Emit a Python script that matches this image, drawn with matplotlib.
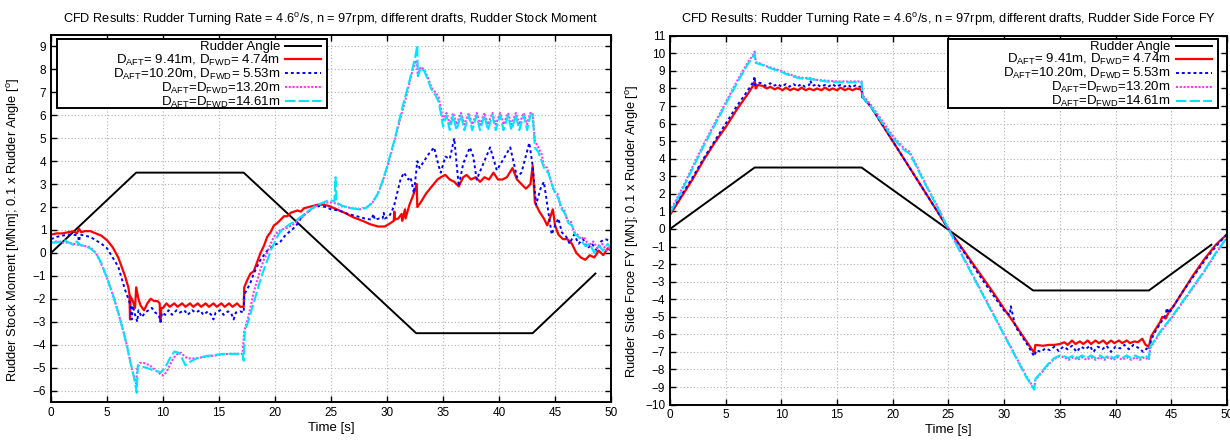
import matplotlib
matplotlib.use('Agg')
import matplotlib.pyplot as plt
from matplotlib.patches import Rectangle
from matplotlib.ticker import MultipleLocator

plt.rcParams['font.family'] = ['Liberation Sans', 'DejaVu Sans']
plt.rcParams['mathtext.fontset'] = 'custom'
plt.rcParams['mathtext.rm'] = 'Liberation Sans'
plt.rcParams['mathtext.it'] = 'Liberation Sans:italic'
plt.rcParams['mathtext.bf'] = 'Liberation Sans:bold'

# ---------------- data: (time [s], value) ----------------
# rudder angle (0.1 x deg), same for both plots
rudder = [(0, 0), (7.6, 3.5), (17.2, 3.5), (32.6, -3.5), (43.0, -3.5), (48.6, -0.9)]

labels = ['Rudder Angle',
          r'D$_{\mathrm{AFT}}$= 9.41m, D$_{\mathrm{FWD}}$= 4.74m',
          r'D$_{\mathrm{AFT}}$=10.20m, D$_{\mathrm{FWD}}$= 5.53m',
          r'D$_{\mathrm{AFT}}$=D$_{\mathrm{FWD}}$=13.20m',
          r'D$_{\mathrm{AFT}}$=D$_{\mathrm{FWD}}$=14.61m']

# rudder stock moment [MNm]
mz_941 = [(0, 0.8), (0.5, 0.85), (1, 0.85), (1.5, 0.9), (2, 0.95), (2.3, 0.85), (2.5, 1.05), (2.7, 0.9),
          (3, 0.95), (3.5, 0.95), (4, 0.85), (4.5, 0.75), (5, 0.55), (5.5, 0.25), (6, -0.2), (6.3, -0.6),
          (6.6, -1.0), (6.9, -1.5), (7.0, -1.8), (7.05, -2.9), (7.1, -1.9), (7.3, -2.1), (7.5, -2.4),
          (7.6, -1.5), (7.8, -2.0), (8.0, -2.3), (8.3, -2.5), (8.6, -2.2), (8.9, -2.0), (9.2, -2.1),
          (9.5, -2.1), (9.7, -2.2), (9.75, -3.0), (9.85, -2.4), (10.0, -2.4), (10.3, -2.2), (10.6, -2.35),
          (11.0, -2.2), (11.3, -2.35), (11.7, -2.2), (12.0, -2.35), (12.4, -2.2), (12.7, -2.35),
          (13.1, -2.2), (13.4, -2.35), (13.8, -2.2), (14.1, -2.35), (14.5, -2.2), (14.8, -2.35),
          (15.2, -2.2), (15.5, -2.35), (15.9, -2.2), (16.2, -2.35), (16.6, -2.2), (16.9, -2.35),
          (17.2, -2.35), (17.25, -1.5), (17.5, -1.2), (17.8, -0.9), (18.1, -0.8), (18.4, -0.4), (18.7, 0.0),
          (19.0, 0.3), (19.3, 0.7), (19.6, 0.9), (19.9, 1.2), (20.2, 1.3), (20.5, 1.45), (20.8, 1.6),
          (21.1, 1.6), (21.4, 1.75), (21.7, 1.8), (22.0, 1.85), (22.3, 1.8), (22.6, 1.95), (23.0, 2.0),
          (23.4, 2.05), (23.8, 2.1), (24.3, 2.1), (24.8, 2.05), (25.5, 1.9), (26.2, 1.75), (27.0, 1.55),
          (27.8, 1.4), (28.5, 1.25), (29.2, 1.15), (29.8, 1.15), (30.3, 1.3), (30.6, 1.4), (30.65, 1.8),
          (30.7, 1.45), (31.0, 1.5), (31.3, 1.7), (31.35, 1.4), (31.6, 1.9), (31.65, 1.5), (32.0, 2.1),
          (32.4, 2.6), (32.65, 3.0), (32.7, 2.0), (33.0, 2.2), (33.5, 2.6), (34.0, 2.9), (34.5, 3.2),
          (34.8, 3.3), (35.2, 3.4), (35.6, 3.2), (36.0, 3.1), (36.4, 2.9), (36.8, 3.3), (37.1, 3.4),
          (37.5, 3.2), (37.9, 3.3), (38.3, 3.1), (38.7, 3.3), (39.1, 3.2), (39.5, 3.5), (39.9, 3.2),
          (40.3, 3.2), (40.7, 3.3), (41.2, 3.7), (41.6, 3.2), (42.0, 3.0), (42.4, 2.8), (42.8, 3.0),
          (43.0, 3.8), (43.2, 2.2), (43.6, 1.8), (44.0, 1.5), (44.3, 1.2), (44.6, 1.6), (44.8, 1.9),
          (45.0, 1.2), (45.3, 0.8), (45.7, 0.6), (46.1, 0.6), (46.5, 0.4), (46.9, 0.0), (47.3, -0.2),
          (47.7, -0.3), (48.1, -0.1), (48.5, -0.2), (48.9, 0.1), (49.3, -0.1), (49.7, 0.2), (50.0, 0.1)]

mz_1020 = [(0, 0.6), (0.5, 0.7), (1, 0.75), (1.5, 0.8), (2, 0.8), (2.4, 0.75), (2.5, 0.5), (2.6, 0.8),
           (3, 0.75), (3.5, 0.7), (4, 0.55), (4.5, 0.4), (5, 0.2), (5.5, -0.2), (6, -0.6), (6.3, -1.1),
           (6.6, -1.6), (6.9, -2.0), (7.1, -2.3), (7.2, -2.9), (7.3, -2.3), (7.5, -2.7), (7.7, -3.0),
           (7.8, -2.5), (8.1, -2.8), (8.4, -2.6), (8.7, -2.5), (9.0, -2.4), (9.3, -2.6), (9.6, -2.7),
           (9.8, -3.0), (9.9, -2.6), (10.2, -2.7), (10.5, -2.5), (10.8, -2.7), (11.2, -2.5), (11.5, -2.6),
           (11.9, -2.5), (12.2, -2.7), (12.6, -2.5), (12.9, -2.6), (13.3, -2.5), (13.6, -2.7),
           (14.0, -2.55), (14.3, -2.7), (14.5, -2.9), (14.7, -2.6), (15.1, -2.5), (15.4, -2.7),
           (15.8, -2.55), (16.1, -2.65), (16.3, -2.9), (16.5, -2.6), (16.9, -2.55), (17.2, -2.6),
           (17.25, -1.8), (17.5, -1.6), (17.8, -1.3), (18.1, -0.9), (18.4, -0.6), (18.7, -0.3), (19.0, -0.1),
           (19.3, 0.1), (19.6, 0.2), (19.9, 0.35), (20.2, 0.4), (20.5, 0.5), (20.8, 0.7), (21.1, 0.85),
           (21.5, 1.0), (21.9, 1.2), (22.3, 1.5), (22.7, 1.7), (23.1, 1.85), (23.5, 2.0), (24.0, 2.05),
           (24.5, 2.0), (25.0, 1.9), (25.7, 1.85), (26.5, 1.7), (27.3, 1.6), (28.0, 1.5), (28.6, 1.45),
           (28.8, 1.7), (28.9, 1.45), (29.3, 1.5), (29.6, 1.5), (29.7, 1.75), (29.8, 1.5), (30.2, 1.6),
           (30.6, 2.0), (30.9, 2.6), (31.2, 3.2), (31.5, 3.5), (31.9, 3.2), (32.1, 3.3), (32.4, 2.6),
           (32.7, 4.0), (32.9, 3.7), (33.3, 4.0), (33.7, 4.3), (34.2, 4.6), (34.6, 3.8), (34.8, 3.5),
           (35.2, 4.2), (35.6, 4.1), (36.0, 5.0), (36.4, 2.9), (36.8, 3.9), (37.4, 4.6), (37.7, 4.2),
           (38.0, 3.2), (38.6, 3.9), (39.2, 4.6), (39.8, 3.6), (40.4, 4.1), (41.0, 4.6), (41.6, 3.3),
           (42.0, 3.5), (42.7, 4.8), (43.0, 3.8), (43.3, 2.1), (43.7, 2.8), (44.0, 3.1), (44.4, 1.8),
           (44.7, 0.8), (45.0, 1.2), (45.3, 1.5), (45.6, 0.9), (46.0, 0.7), (46.3, 0.4), (46.7, 0.8),
           (47.1, 0.4), (47.5, 0.6), (47.9, 0.2), (48.3, 0.4), (48.7, 0.1), (49.1, 0.5), (49.5, 0.6),
           (50.0, 0.5)]

mz_1320 = [(0, 0.45), (0.5, 0.5), (1, 0.45), (1.5, 0.45), (2, 0.4), (2.5, 0.35), (3, 0.3), (3.5, 0.25),
           (4, 0.0), (4.5, -0.5), (5, -1.1), (5.5, -1.8), (6, -2.6), (6.5, -3.5), (6.8, -4.1), (7.1, -4.8),
           (7.4, -5.4), (7.6, -5.7), (7.7, -5.0), (7.9, -4.8), (8.3, -4.8), (8.8, -4.9), (9.3, -5.1),
           (9.8, -5.3), (10.0, -5.35), (10.3, -5.2), (10.6, -4.9), (10.9, -4.6), (11.3, -4.4), (11.6, -4.35),
           (11.9, -4.5), (12.2, -4.6), (12.8, -4.6), (13.5, -4.55), (14.2, -4.5), (15.0, -4.45), (15.8, -4.4),
           (16.5, -4.4), (17.1, -4.4), (17.25, -3.4), (17.5, -3.0), (17.8, -2.4), (18.1, -1.7), (18.4, -1.2),
           (18.7, -0.7), (19.0, -0.3), (19.3, 0.0), (19.6, 0.4), (19.9, 0.7), (20.2, 0.9), (20.5, 1.0),
           (20.8, 1.05), (21.1, 1.1), (21.5, 1.2), (21.9, 1.35), (22.3, 1.5), (22.7, 1.7), (23.1, 1.85),
           (23.5, 2.0), (24.0, 2.1), (24.5, 2.2), (25.0, 2.2), (25.5, 2.15), (26.0, 2.05), (26.8, 1.95),
           (27.6, 1.9), (28.2, 2.0), (28.7, 2.2), (29.2, 2.6), (29.6, 3.1), (30.0, 3.7), (30.4, 4.4),
           (30.8, 5.1), (31.2, 5.9), (31.6, 6.6), (32.0, 7.4), (32.3, 8.0), (32.6, 8.4), (32.75, 7.8),
           (33.0, 8.1), (33.3, 8.0), (33.6, 7.7), (33.9, 7.3), (34.1, 7.1), (34.3, 7.0), (34.6, 6.8),
           (34.8, 6.3), (35.0, 5.8), (35.3, 6.1), (35.6, 5.6), (35.9, 6.1), (36.2, 5.6), (36.6, 6.1),
           (36.9, 5.6), (37.3, 6.1), (37.6, 5.6), (38.0, 6.1), (38.3, 5.6), (38.7, 6.1), (39.0, 5.6),
           (39.4, 6.1), (39.7, 5.6), (40.1, 6.1), (40.4, 5.6), (40.8, 6.1), (41.1, 5.6), (41.5, 6.1),
           (41.8, 5.6), (42.2, 6.1), (42.5, 5.6), (42.8, 6.1), (43.0, 6.1), (43.2, 4.9), (43.5, 4.6),
           (43.8, 4.3), (44.0, 3.8), (44.3, 3.7), (44.6, 3.2), (44.9, 2.7), (45.2, 2.6), (45.5, 2.0),
           (45.8, 1.9), (46.1, 1.4), (46.4, 1.4), (46.7, 0.9), (47.0, 0.8), (47.3, 0.6), (47.6, 0.7),
           (48.0, 0.3), (48.4, 0.5), (48.8, 0.2), (49.2, 0.4), (49.6, 0.1), (50.0, 0.3)]

mz_1461 = [(0, 0.45), (0.5, 0.45), (1.2, 0.55), (1.6, 0.45), (2, 0.35), (2.3, 0.5), (2.6, 0.35), (3, 0.3),
           (3.5, 0.2), (4, 0.0), (4.5, -0.45), (5, -1.1), (5.5, -1.8), (6, -2.6), (6.5, -3.5), (6.8, -4.1),
           (7.1, -4.8), (7.4, -5.4), (7.65, -6.1), (7.75, -4.9), (8.0, -4.95), (8.5, -5.0), (9.0, -5.1),
           (9.8, -5.2), (10.2, -5.0), (10.6, -4.6), (11.0, -4.3), (11.4, -4.35), (11.7, -4.6), (12.0, -4.9),
           (12.4, -4.75), (13.0, -4.6), (13.8, -4.5), (14.6, -4.45), (15.4, -4.4), (16.2, -4.4),
           (17.1, -4.4), (17.2, -4.7), (17.3, -3.4), (17.6, -3.0), (17.9, -2.5), (18.2, -2.0), (18.5, -1.5),
           (18.8, -1.0), (19.1, -0.6), (19.4, -0.2), (19.7, 0.2), (20.0, 0.5), (20.3, 0.8), (20.6, 1.0),
           (20.9, 1.1), (21.3, 1.25), (21.7, 1.35), (22.1, 1.5), (22.5, 1.65), (22.9, 1.8), (23.3, 1.95),
           (23.8, 2.1), (24.3, 2.2), (24.8, 2.3), (25.3, 2.25), (25.4, 3.3), (25.5, 2.2), (26.0, 2.05),
           (26.8, 1.95), (27.5, 1.9), (28.1, 1.95), (28.6, 2.15), (29.1, 2.5), (29.5, 3.0), (29.9, 3.6),
           (30.3, 4.3), (30.7, 5.0), (31.1, 5.8), (31.5, 6.6), (31.9, 7.3), (32.2, 7.9), (32.5, 8.5),
           (32.7, 9.05), (32.75, 7.7), (33.0, 8.05), (33.3, 7.95), (33.6, 7.6), (33.9, 7.2), (34.1, 7.0),
           (34.3, 6.9), (34.6, 6.6), (34.8, 6.1), (35.0, 5.5), (35.3, 6.0), (35.6, 5.35), (35.9, 6.0),
           (36.2, 5.35), (36.6, 6.0), (36.9, 5.35), (37.3, 6.0), (37.6, 5.35), (38.0, 6.0), (38.3, 5.35),
           (38.7, 6.0), (39.0, 5.35), (39.4, 6.0), (39.7, 5.35), (40.1, 6.0), (40.4, 5.35), (40.8, 6.0),
           (41.1, 5.35), (41.5, 6.0), (41.8, 5.35), (42.2, 6.0), (42.5, 5.35), (42.8, 6.0), (43.0, 6.0),
           (43.2, 4.6), (43.5, 4.4), (43.8, 4.0), (44.1, 3.6), (44.4, 3.5), (44.7, 3.0), (45.0, 2.6),
           (45.3, 2.4), (45.6, 1.9), (45.9, 1.7), (46.2, 1.3), (46.5, 1.2), (46.8, 0.8), (47.1, 0.7),
           (47.4, 0.5), (47.7, 0.3), (48.1, 0.4), (48.5, 0.0), (48.9, 0.3), (49.3, 0.1), (49.7, 0.4),
           (50.0, 0.2)]

# rudder side force FY [MN]
fy_941 = [(0, 0.8), (1, 1.8), (2, 2.8), (3, 3.9), (4, 4.9), (5, 5.8), (6, 6.8), (7, 7.7), (7.5, 8.2),
          (7.6, 8.4), (7.7, 8.0), (7.9, 8.2), (8.3, 8.15), (8.7, 8.0), (9.0, 8.1), (9.4, 7.95), (9.7, 8.05),
          (10.1, 7.9), (10.4, 8.05), (10.8, 7.9), (11.1, 8.0), (11.5, 7.9), (11.8, 8.05), (12.2, 7.9),
          (12.5, 8.0), (12.9, 7.9), (13.2, 8.0), (13.6, 7.9), (13.9, 8.05), (14.3, 7.9), (14.6, 8.0),
          (15.0, 7.9), (15.3, 8.05), (15.7, 7.9), (16.0, 8.0), (16.4, 7.9), (16.7, 8.0), (17.1, 7.95),
          (17.2, 7.9), (17.3, 7.5), (18, 7.0), (19, 6.0), (20, 5.0), (21, 4.0), (22, 3.0), (23, 2.0),
          (24, 1.0), (25, 0.0), (26, -0.9), (27, -1.8), (28, -2.7), (29, -3.6), (30, -4.55), (31, -5.45),
          (32, -6.4), (32.7, -7.05), (32.8, -6.6), (33.5, -6.65), (34.0, -6.6), (34.5, -6.6), (35.0, -6.55),
          (35.4, -6.45), (35.7, -6.6), (36.1, -6.35), (36.4, -6.55), (36.8, -6.4), (37.1, -6.55),
          (37.5, -6.35), (37.8, -6.55), (38.2, -6.35), (38.5, -6.5), (38.9, -6.35), (39.2, -6.55),
          (39.6, -6.35), (39.9, -6.5), (40.3, -6.35), (40.6, -6.5), (41.0, -6.35), (41.3, -6.5),
          (41.7, -6.4), (42.0, -6.45), (42.4, -6.25), (42.7, -6.6), (43.0, -6.7), (43.2, -6.1),
          (43.6, -5.7), (44.0, -5.3), (44.2, -5.0), (44.5, -5.1), (44.8, -4.7), (45.2, -4.4), (46, -3.6),
          (47, -2.6), (48, -1.7), (49, -0.9), (50, -0.3)]

fy_1020 = [(0, 0.9), (1, 1.9), (2, 2.9), (3, 4.0), (4, 5.0), (5, 6.0), (6, 7.0), (7, 7.9), (7.5, 8.4),
           (7.6, 8.7), (7.65, 8.2), (7.8, 8.35), (8.2, 8.3), (8.6, 8.15), (9.0, 8.3), (9.3, 8.15), (9.7, 8.25),
           (10.0, 8.1), (10.4, 8.25), (10.7, 8.1), (11.1, 8.25), (11.4, 8.1), (11.8, 8.25), (12.1, 8.1),
           (12.5, 8.2), (12.6, 8.45), (12.8, 8.15), (13.2, 8.25), (13.5, 8.1), (13.9, 8.2), (14.2, 8.1),
           (14.6, 8.25), (14.9, 8.1), (15.3, 8.2), (15.6, 8.1), (16.0, 8.2), (16.3, 8.05), (16.7, 8.2),
           (17.0, 8.1), (17.2, 8.1), (17.25, 7.5), (18, 7.0), (19, 6.0), (20, 5.0), (21, 4.0), (22, 3.0),
           (23, 2.0), (24, 1.0), (25, 0.0), (26, -0.95), (27, -1.9), (28, -2.85), (29, -3.75), (30, -4.65),
           (30.5, -4.9), (30.6, -4.4), (31, -5.55), (32, -6.5), (32.7, -7.25), (32.9, -6.9), (33.3, -7.0),
           (33.7, -6.8), (34.1, -6.9), (34.5, -6.7), (34.9, -6.95), (35.3, -6.7), (35.7, -6.85),
           (36.1, -6.65), (36.5, -7.0), (36.9, -6.7), (37.3, -6.85), (37.7, -6.65), (38.0, -7.0),
           (38.4, -6.7), (38.8, -6.85), (39.2, -6.65), (39.6, -7.0), (40.0, -6.7), (40.4, -6.8),
           (40.8, -6.6), (41.2, -6.85), (41.6, -6.6), (42.0, -6.75), (42.5, -7.0), (42.8, -6.8),
           (43.0, -6.9), (43.2, -6.3), (43.6, -5.8), (44.2, -5.2), (44.5, -4.9), (44.6, -4.5), (44.8, -4.8),
           (45.5, -4.1), (46, -3.6), (47, -2.7), (48, -1.8), (49, -1.0), (50, -0.3)]

fy_1320 = [(0, 1.0), (1, 2.2), (2, 3.5), (3, 4.8), (4, 6.0), (5, 7.2), (6, 8.4), (7, 9.5), (7.5, 9.95),
           (7.6, 10.1), (7.7, 9.5), (8.0, 9.45), (8.5, 9.3), (9.0, 9.2), (9.5, 9.1), (10, 9.0), (10.5, 8.85),
           (11, 8.75), (11.5, 8.65), (12, 8.6), (12.5, 8.6), (13, 8.5), (14, 8.45), (15, 8.4), (16, 8.4),
           (17, 8.4), (17.2, 8.4), (17.3, 7.6), (18, 7.1), (19, 6.2), (20, 5.3), (21, 4.6), (21.5, 4.4),
           (22, 3.8), (23, 2.5), (24, 1.3), (25, 0.0), (26, -1.2), (27, -2.4), (28, -3.6), (29, -4.8),
           (30, -6.0), (31, -7.2), (32, -8.4), (32.7, -9.1), (32.8, -8.6), (33.2, -8.3), (33.6, -8.0),
           (34.0, -7.7), (34.5, -7.4), (35.0, -7.25), (35.4, -7.3), (35.8, -7.45), (36.2, -7.3),
           (36.6, -7.45), (37.0, -7.3), (37.4, -7.45), (37.8, -7.3), (38.2, -7.45), (38.6, -7.3),
           (39.0, -7.45), (39.4, -7.3), (39.8, -7.45), (40.2, -7.3), (40.6, -7.45), (41.0, -7.3),
           (41.4, -7.45), (41.8, -7.3), (42.2, -7.45), (42.6, -7.3), (43.0, -7.45), (43.1, -6.8),
           (43.5, -6.4), (44, -5.9), (45, -5.1), (46, -4.2), (47, -3.3), (48, -2.4), (49, -1.4), (50, -0.5)]

fy_1461 = [(0, 0.9), (1, 2.1), (2, 3.4), (3, 4.7), (4, 5.9), (5, 7.1), (6, 8.3), (7, 9.4), (7.5, 9.85),
           (7.6, 10.0), (7.7, 9.45), (8.0, 9.4), (8.5, 9.3), (9.0, 9.15), (9.5, 9.05), (10, 8.95), (10.5, 8.8),
           (11, 8.7), (11.5, 8.6), (12, 8.55), (12.5, 8.55), (13, 8.5), (14, 8.4), (15, 8.35), (16, 8.35),
           (17, 8.35), (17.2, 8.35), (17.3, 7.5), (18, 7.0), (19, 6.1), (20, 5.2), (21, 4.5), (21.5, 4.3),
           (22, 3.7), (23, 2.45), (24, 1.25), (25, 0.0), (26, -1.25), (27, -2.45), (28, -3.65), (29, -4.85),
           (30, -6.05), (31, -7.25), (32, -8.45), (32.7, -9.15), (32.8, -8.55), (33.2, -8.25), (33.6, -7.95),
           (34.0, -7.65), (34.5, -7.35), (35.0, -7.2), (35.4, -7.25), (35.8, -7.35), (36.2, -7.2),
           (36.6, -7.35), (37.0, -7.2), (37.4, -7.35), (37.8, -7.2), (38.2, -7.35), (38.6, -7.2),
           (39.0, -7.35), (39.4, -7.2), (39.8, -7.35), (40.2, -7.2), (40.6, -7.35), (41.0, -7.2),
           (41.4, -7.35), (41.8, -7.2), (42.2, -7.35), (42.6, -7.2), (43.0, -7.35), (43.1, -6.7),
           (43.5, -6.35), (44, -5.85), (45, -5.05), (46, -4.15), (47, -3.25), (48, -2.35), (49, -1.35),
           (50, -0.5)]

titles = [r'CFD Results: Rudder Turning Rate = 4.6$^{\mathrm{o}}$/s, n = 97rpm, different drafts, Rudder Stock Moment',
          r'CFD Results: Rudder Turning Rate = 4.6$^{\mathrm{o}}$/s, n = 97rpm, different drafts, Rudder Side Force FY']
ylabels = [r'Rudder Stock Moment [MNm]; 0.1 x Rudder Angle [$^{\mathrm{o}}$]',
           r'Rudder Side Force FY [MN]; 0.1 x Rudder Angle [$^{\mathrm{o}}$]']

# ---------------- plot ----------------
fig = plt.figure(figsize=(12.3, 4.42), dpi=100)
ax1 = fig.add_axes([0.0415, 0.0905, 0.4553, 0.8303])
ax2 = fig.add_axes([0.5447, 0.0846, 0.4528, 0.8344])

styles = [dict(color='black', lw=1.4, ls='-'),
          dict(color='#ff0000', lw=1.6, ls='-'),
          dict(color='#0000ff', lw=1.4, ls=(0, (1.5, 1.5))),
          dict(color='#ff33ff', lw=1.5, ls=(0, (1, 0.8))),
          dict(color='#00e5ff', lw=1.5, ls=(0, (5, 1.5)))]

series = [[rudder, mz_941, mz_1020, mz_1320, mz_1461],
          [rudder, fy_941, fy_1020, fy_1320, fy_1461]]

# legend box in axes fractions: x0, x1, y_bottom, y_top
boxes = [(0.0107, 0.4929, 0.80, 0.989),
         (0.499, 0.9838, 0.803, 0.992)]

for ax, ser, title, ylab, box in zip([ax1, ax2], series, titles, ylabels, boxes):
    for pts, st, lab in zip(ser, styles, labels):
        t, v = zip(*pts)
        ax.plot(t, v, label=lab, **st)
    ax.set_xlim(0, 50)
    ax.xaxis.set_major_locator(MultipleLocator(5))
    ax.yaxis.set_major_locator(MultipleLocator(1))
    ax.grid(True, color='#b0b0b0', ls=(0, (1, 2)), lw=0.8)
    ax.tick_params(direction='in', top=True, right=True, length=4, width=1, labelsize=8.5)
    for sp in ax.spines.values():
        sp.set_linewidth(1.4)
    ax.set_title(title, fontsize=9.2, pad=9)
    ax.set_xlabel('Time [s]', fontsize=9.5, labelpad=2)
    ax.set_ylabel(ylab, fontsize=9.3, labelpad=2)
    ax.yaxis.set_label_coords(-0.052, 0.47)

    x0, x1, yb, yt = box
    ax.add_patch(Rectangle((x0, yb), x1 - x0, yt - yb, transform=ax.transAxes, facecolor='white',
                           edgecolor='black', lw=1.4, zorder=4.5))
    ax.legend(loc='upper right', bbox_to_anchor=(x1 - 0.011, yt - 0.006), frameon=False,
              markerfirst=False, fontsize=9.5, labelspacing=-0.08, borderpad=0, borderaxespad=0,
              handlelength=2.7, handletextpad=0.4)

ax1.set_ylim(-6.5, 9.5)
ax2.set_ylim(-10, 11)

fig.savefig('out.png', dpi=100)
